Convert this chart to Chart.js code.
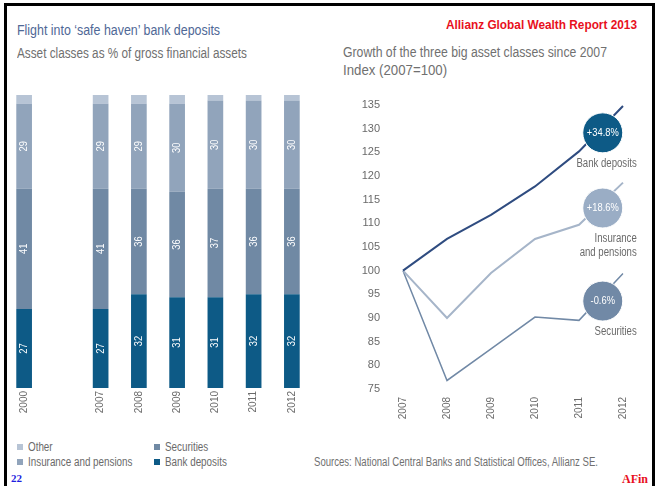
<!DOCTYPE html>
<html>
<head>
<meta charset="utf-8">
<script src="https://cdn.jsdelivr.net/npm/chart.js@4/dist/chart.umd.min.js"></script>
<style>
body { margin: 0; background: #fff; }
#page { position: relative; width: 659px; height: 486px; overflow: hidden; font-family: 'Liberation Sans', sans-serif; }
.bar { position: absolute; background: #000; }
.txt { position: absolute; white-space: nowrap; line-height: 1; transform-origin: 0 0; }
.sq { display: inline-block; width: 6px; height: 6px; margin-right: 5px; vertical-align: 1px; }
</style>
</head>
<body>
<div id="page">
  <div class="bar" style="left:4px;top:3px;width:3px;height:483px"></div>
  <div class="bar" style="left:4px;top:3px;width:651px;height:3px"></div>
  <div class="bar" style="left:652px;top:3px;width:3px;height:483px"></div>

  <div class="txt" data-w="203" style="left:17px;top:23px;font-size:14px;color:#4f6896">Flight into ‘safe haven’ bank deposits</div>
  <div class="txt" data-w="230" style="left:17px;top:46px;font-size:14px;color:#707070">Asset classes as % of gross financial assets</div>
  <div class="txt" data-w="191" style="left:446px;top:18px;font-size:13px;font-weight:bold;color:#e8101c">Allianz Global Wealth Report 2013</div>
  <div class="txt" data-w="264" style="left:343px;top:45px;font-size:14px;color:#707070">Growth of the three big asset classes since 2007</div>
  <div class="txt" data-w="104" style="left:343px;top:63px;font-size:14px;color:#707070">Index (2007=100)</div>

  <div id="legend"></div>
  <div class="txt" data-w="284" style="left:314px;top:456px;font-size:12px;color:#707070">Sources: National Central Banks and Statistical Offices, Allianz SE.</div>
  <div class="txt" style="left:11px;top:473px;font-size:11px;font-weight:bold;color:#1f1fe0;font-family:'Liberation Serif',serif">22</div>
  <div class="txt" style="left:622px;top:473px;font-size:12px;font-weight:bold;color:#e8101c;font-family:'Liberation Serif',serif">AFin</div>

  <div style="position:absolute;left:5px;top:90px;width:306px;height:335px"><canvas id="barChart"></canvas></div>
  <div style="position:absolute;left:330px;top:90px;width:320px;height:335px"><canvas id="lineChart"></canvas></div>
</div>

<script>
// left chart: asset classes as % of gross financial assets
const barYears = ['2000', '', '2007', '2008', '2009', '2010', '2011', '2012'];
const bankDeposits = [27, null, 27, 32, 31, 31, 32, 32];
const securities = [41, null, 41, 36, 36, 37, 36, 36];
const insurance = [29, null, 29, 29, 30, 30, 30, 30];
const other = [3, null, 3, 3, 3, 2, 2, 2];

// right chart: index 2007=100
const lineYears = ['2007', '2008', '2009', '2010', '2011', '2012'];
const bankIndex = [100, 106.7, 111.8, 117.8, 125.2, 134.8];
const insuranceIndex = [100, 90, 99.5, 106.7, 109.7, 118.6];
const securitiesIndex = [100, 76.8, 83.5, 90.2, 89.5, 99.4];
const callouts = ['+34.8%', '+18.6%', '-0.6%'];
const calloutNames = [['Bank deposits'], ['Insurance', 'and pensions'], ['Securities']];

const legendNames = ['Other', 'Insurance and pensions', 'Securities', 'Bank deposits'];
const legendColors = ['#b7c4d5', '#91a4bb', '#7089a4', '#0d5a86'];

const font = "'Liberation Sans', sans-serif";
const grey = '#6a6a6a';

// legend as html
const legendPos = [[17, 441], [17, 456], [154, 441], [154, 456]];
let html = '';
legendNames.forEach((n, i) => {
  html += '<div class="txt" style="left:' + legendPos[i][0] + 'px;top:' + legendPos[i][1] + 'px;font-size:12px;color:' + grey + '">' +
    '<span class="sq" style="background:' + legendColors[i] + '"></span><span class="cond">' + n + '</span></div>';
});
document.getElementById('legend').innerHTML = html;
document.querySelectorAll('.cond').forEach(s => { s.style.display = 'inline-block'; s.style.transform = 'scaleX(0.82)'; s.style.transformOrigin = '0 0'; });

// squeeze the html texts to the condensed widths of the original
document.querySelectorAll('[data-w]').forEach(el => {
  el.style.transform = 'scaleX(' + (+el.dataset.w / el.offsetWidth) + ')';
});

function condText(ctx, t, x, y, sx) {
  ctx.save();
  ctx.translate(x, y);
  ctx.scale(sx, 1);
  ctx.fillText(t, 0, 0);
  ctx.restore();
}

const barLabels = {
  id: 'barLabels',
  afterDatasetsDraw(chart) {
    const ctx = chart.ctx;
    ctx.save();
    ctx.fillStyle = '#fff';
    ctx.font = '11px ' + font;
    ctx.textAlign = 'center';
    ctx.textBaseline = 'middle';
    chart.data.datasets.forEach((ds, i) => {
      if (!ds.showValues) return;
      chart.getDatasetMeta(i).data.forEach((bar, j) => {
        if (ds.data[j] == null) return;
        ctx.save();
        ctx.translate(bar.x, (bar.y + bar.base) / 2);
        ctx.rotate(-Math.PI / 2);
        ctx.scale(0.85, 1);
        ctx.fillText(ds.data[j], 0, 0);
        ctx.restore();
      });
    });
    ctx.restore();
  }
};

new Chart(document.getElementById('barChart'), {
  type: 'bar',
  data: {
    labels: barYears,
    datasets: [
      { label: legendNames[3], data: bankDeposits, backgroundColor: legendColors[3], showValues: true },
      { label: legendNames[2], data: securities, backgroundColor: legendColors[2], showValues: true },
      { label: legendNames[1], data: insurance, backgroundColor: legendColors[1], showValues: true },
      { label: legendNames[0], data: other, backgroundColor: legendColors[0] }
    ]
  },
  options: {
    responsive: true,
    maintainAspectRatio: false,
    animation: false,
    layout: { padding: { top: 5 } },
    barPercentage: 0.41,
    categoryPercentage: 1,
    plugins: { legend: { display: false }, tooltip: { enabled: false } },
    scales: {
      x: {
        stacked: true,
        grid: { display: false, drawTicks: false },
        border: { display: false },
        ticks: { color: grey, font: { family: font, size: 10 }, minRotation: 90, maxRotation: 90, padding: 3, autoSkip: false },
        afterFit(s) { s.height = 37; }
      },
      y: { stacked: true, display: false, min: 0, max: 100 }
    }
  },
  plugins: [barLabels]
});

const calloutPlugin = {
  id: 'callouts',
  afterDatasetsDraw(chart) {
    const ctx = chart.ctx;
    const xs = chart.scales.x, ys = chart.scales.y;
    ctx.save();
    chart.data.datasets.forEach((ds, i) => {
      const v = ds.data[4] + (ds.data[5] - ds.data[4]) * 0.54;
      const cx = xs.getPixelForValue(4.54);
      const cy = ys.getPixelForValue(v) + 6;
      ctx.beginPath();
      ctx.arc(cx, cy, 20, 0, Math.PI * 2);
      ctx.fillStyle = ds.circleColor;
      ctx.fill();
      ctx.lineWidth = 1;
      ctx.strokeStyle = '#fff';
      ctx.stroke();
      ctx.fillStyle = '#fff';
      ctx.font = '11px ' + font;
      ctx.textAlign = 'center';
      ctx.textBaseline = 'middle';
      condText(ctx, callouts[i], cx, cy, 0.85);
      ctx.fillStyle = grey;
      ctx.font = '12px ' + font;
      ctx.textAlign = 'right';
      calloutNames[i].forEach((t, k) => condText(ctx, t, cx + 34, cy + 31 + k * 14, 0.8));
    });
    ctx.restore();
  }
};

new Chart(document.getElementById('lineChart'), {
  type: 'line',
  data: {
    labels: lineYears,
    datasets: [
      { label: 'Bank deposits', data: bankIndex, borderColor: '#2f4c80', circleColor: '#0d5a86', borderWidth: 2 },
      { label: 'Insurance and pensions', data: insuranceIndex, borderColor: '#a6b5c9', circleColor: '#9aadc5', borderWidth: 2 },
      { label: 'Securities', data: securitiesIndex, borderColor: '#7189a6', circleColor: '#7189a6', borderWidth: 1.5 }
    ]
  },
  options: {
    responsive: true,
    maintainAspectRatio: false,
    animation: false,
    layout: { padding: { top: 15, right: 27 } },
    elements: { point: { radius: 0 }, line: { tension: 0 } },
    plugins: { legend: { display: false }, tooltip: { enabled: false } },
    scales: {
      x: {
        grid: { display: false, drawTicks: false },
        border: { display: false },
        ticks: { color: grey, font: { family: font, size: 10 }, minRotation: 90, maxRotation: 90, padding: 8 },
        afterFit(s) { s.height = 36; s.paddingLeft = 0; s.paddingRight = 6; }
      },
      y: {
        min: 75, max: 135,
        grid: { display: false, drawTicks: false },
        border: { display: false },
        ticks: { stepSize: 5, color: grey, font: { family: font, size: 11 }, padding: 23 },
        afterFit(s) { s.width = 73; s.paddingTop = 7; s.paddingBottom = 7; }
      }
    }
  },
  plugins: [calloutPlugin]
});
</script>
</body>
</html>
